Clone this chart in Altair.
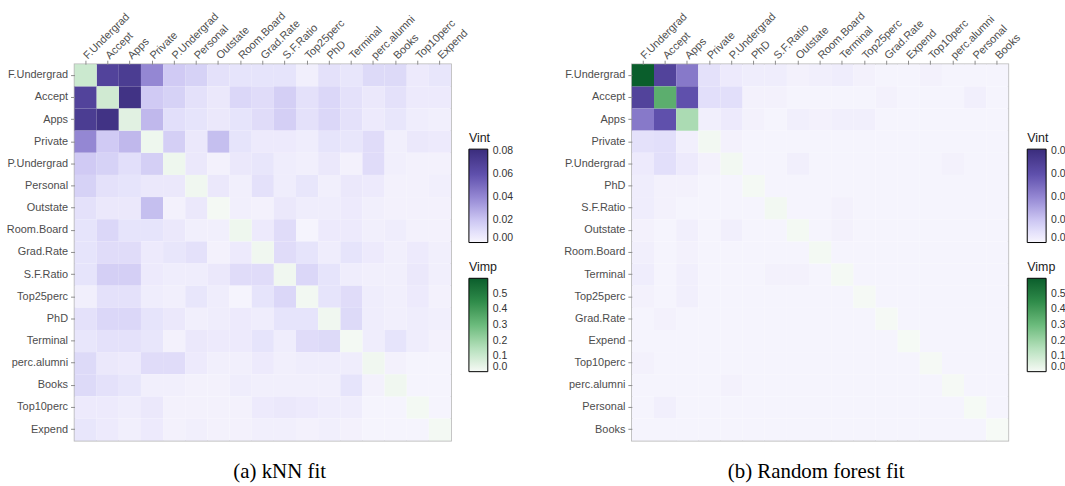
import altair as alt
import pandas as pd

# ---- kNN fit -------------------------------------------------------------
knn_vars = ["F.Undergrad", "Accept", "Apps", "Private", "P.Undergrad", "Personal",
            "Outstate", "Room.Board", "Grad.Rate", "S.F.Ratio", "Top25perc", "PhD",
            "Terminal", "perc.alumni", "Books", "Top10perc", "Expend"]

# variable importance (diagonal)
knn_vimp = [0.10, 0.09, 0.05, 0.02, 0.02, 0.015, 0.005, 0.02, 0.015, 0.015,
            0.01, 0.015, 0.008, 0.015, 0.015, 0.008, 0.008]

# pairwise interaction strength, lower triangle: row i holds columns 0..i-1
knn_vint = [
    [],
    [0.068],
    [0.072, 0.078],
    [0.040, 0.018, 0.024],
    [0.018, 0.015, 0.010, 0.016],
    [0.015, 0.009, 0.008, 0.006, 0.006],
    [0.009, 0.006, 0.006, 0.022, 0.002, 0.006],
    [0.008, 0.013, 0.008, 0.008, 0.006, 0.003, 0.003],
    [0.008, 0.011, 0.011, 0.005, 0.007, 0.009, 0.002, 0.005],
    [0.008, 0.016, 0.016, 0.005, 0.004, 0.004, 0.006, 0.011, 0.011],
    [0.003, 0.009, 0.009, 0.004, 0.003, 0.007, 0.004, 0.001, 0.008, 0.013],
    [0.009, 0.013, 0.013, 0.008, 0.006, 0.003, 0.004, 0.005, 0.004, 0.008, 0.008],
    [0.007, 0.009, 0.009, 0.007, 0.002, 0.006, 0.005, 0.005, 0.008, 0.004, 0.011, 0.012],
    [0.012, 0.006, 0.005, 0.011, 0.011, 0.005, 0.003, 0.003, 0.005, 0.003, 0.004, 0.004,
     0.004],
    [0.012, 0.009, 0.007, 0.003, 0.003, 0.002, 0.002, 0.004, 0.003, 0.003, 0.003, 0.003,
     0.008, 0.002],
    [0.005, 0.005, 0.004, 0.006, 0.002, 0.002, 0.002, 0.002, 0.005, 0.006, 0.005, 0.004,
     0.004, 0.001, 0.001],
    [0.007, 0.005, 0.003, 0.005, 0.002, 0.003, 0.002, 0.002, 0.003, 0.003, 0.002, 0.003,
     0.002, 0.001, 0.001, 0.001],
]

# ---- Random forest fit ---------------------------------------------------
rf_vars = ["F.Undergrad", "Accept", "Apps", "Private", "P.Undergrad", "PhD",
           "S.F.Ratio", "Outstate", "Room.Board", "Terminal", "Top25perc", "Grad.Rate",
           "Expend", "Top10perc", "perc.alumni", "Personal", "Books"]

rf_vimp = [0.60, 0.34, 0.17, 0.01, 0.01, 0.005, 0.01, 0.008, 0.008, 0.004,
           0.003, 0.003, 0.002, 0.003, 0.003, 0.002, 0.001]

rf_vint = [
    [],
    [0.068],
    [0.045, 0.060],
    [0.009, 0.010, 0.003],
    [0.005, 0.010, 0.005, 0.002],
    [0.004, 0.002, 0.002, 0.001, 0.001],
    [0.004, 0.002, 0.001, 0.001, 0.001, 0.001],
    [0.002, 0.001, 0.003, 0.001, 0.003, 0.001, 0.001],
    [0.003, 0.001, 0.002, 0.001, 0.001, 0.001, 0.001, 0.001],
    [0.004, 0.001, 0.003, 0.001, 0.001, 0.001, 0.002, 0.002, 0.001],
    [0.002, 0.001, 0.003, 0.001, 0.001, 0.001, 0.001, 0.001, 0.001, 0.001],
    [0.001, 0.002, 0.001, 0.001, 0.001, 0.001, 0.001, 0.001, 0.001, 0.001, 0.001],
    [0.001, 0.001, 0.001, 0.001, 0.001, 0.001, 0.001, 0.001, 0.001, 0.001, 0.001, 0.001],
    [0.002, 0.001, 0.001, 0.001, 0.001, 0.001, 0.001, 0.001, 0.001, 0.001, 0.001, 0.001,
     0.001],
    [0.001, 0.001, 0.001, 0.001, 0.002, 0.001, 0.001, 0.001, 0.001, 0.001, 0.001, 0.001,
     0.001, 0.001],
    [0.001, 0.003, 0.001, 0.001, 0.001, 0.001, 0.001, 0.001, 0.001, 0.001, 0.001, 0.001,
     0.001, 0.001, 0.001],
    [0.001, 0.001, 0.001, 0.001, 0.001, 0.001, 0.001, 0.001, 0.001, 0.001, 0.001, 0.001,
     0.001, 0.001, 0.001, 0.001],
]

# colour ramps shared by both panels
vint_domain = [0, 0.01, 0.02, 0.04, 0.06, 0.082]
vint_range = ["#f7f6fd", "#e2dffa", "#cbc5f2", "#9487d3", "#5f50ac", "#3b2d7d"]
vimp_domain = [0, 0.15, 0.3, 0.45, 0.6]
vimp_range = ["#f6faf6", "#b5e0bc", "#6bbb7c", "#2f8c4a", "#0a5e2c"]

PLOT = 379
SANS = "Liberation Sans"
SERIF = "Liberation Serif"


def tables(names, vimp, vint_lower):
    inter, imp = [], []
    for i, a in enumerate(names):
        for j, b in enumerate(names):
            if i == j:
                imp.append({"row": a, "col": b, "Vimp": vimp[i]})
            else:
                v = vint_lower[i][j] if j < i else vint_lower[j][i]
                inter.append({"row": a, "col": b, "Vint": v})
    return pd.DataFrame(inter), pd.DataFrame(imp)


def panel(names, vimp, vint_lower, caption, dx, leg_x):
    inter, imp = tables(names, vimp, vint_lower)
    x = alt.X("col:N", sort=names, title=None,
              scale=alt.Scale(paddingInner=0, paddingOuter=0),
              axis=alt.Axis(orient="top", labelAngle=-45, labelAlign="left",
                            labelBaseline="middle", labelPadding=3))
    y = alt.Y("row:N", sort=names, title=None,
              scale=alt.Scale(paddingInner=0, paddingOuter=0),
              axis=alt.Axis(labelPadding=3))
    leg_common = dict(orient="none", gradientLength=94, gradientThickness=19,
                      gradientStrokeColor="#000000", gradientStrokeWidth=1,
                      titleFont=SANS, titleFontSize=12.5, titleFontWeight="normal",
                      titleColor="#1a1a1a", titlePadding=5, labelFont=SANS,
                      labelFontSize=10.5, labelColor="#333333", labelOffset=5,
                      labelOverlap=False, legendX=leg_x)
    int_layer = alt.Chart(inter).mark_rect().encode(
        x=x, y=y,
        color=alt.Color("Vint:Q",
                        scale=alt.Scale(domain=vint_domain, range=vint_range),
                        legend=alt.Legend(values=[0, 0.02, 0.04, 0.06, 0.08],
                                          format=".2f", legendY=68, **leg_common)),
    )
    imp_layer = alt.Chart(imp).mark_rect().encode(
        x=x, y=y,
        color=alt.Color("Vimp:Q",
                        scale=alt.Scale(domain=vimp_domain, range=vimp_range),
                        legend=alt.Legend(values=[0, 0.1, 0.2, 0.3, 0.4, 0.5],
                                          format=".1f", legendY=198, **leg_common)),
    )
    return alt.layer(int_layer, imp_layer).resolve_scale(color="independent").properties(
        width=PLOT, height=PLOT,
        title=alt.TitleParams(caption, orient="bottom", anchor="middle", dx=dx,
                              offset=21, font=SERIF, fontSize=21,
                              fontWeight="normal", color="#000000"),
    )


left = panel(knn_vars, knn_vimp, knn_vint, "(a) kNN fit", 17, PLOT + 18)
right = panel(rf_vars, rf_vimp, rf_vint, "(b) Random forest fit", -4, PLOT + 19)

# the right-hand legend runs past the page edge, so the right padding is negative
chart = alt.hconcat(left, right, spacing=48).configure_view(
    stroke="#b3b3b3", strokeWidth=1.5
).configure_axis(
    domain=False, grid=False, ticks=True, tickColor="#8c8c8c", tickSize=4,
    labelFont=SANS, labelFontSize=11, labelColor="#4d4d4d"
).properties(background="white", padding={"left": 5, "top": 7, "right": -8, "bottom": 5})

chart.save("out.html", embed_options={"renderer": "svg", "actions": False})
